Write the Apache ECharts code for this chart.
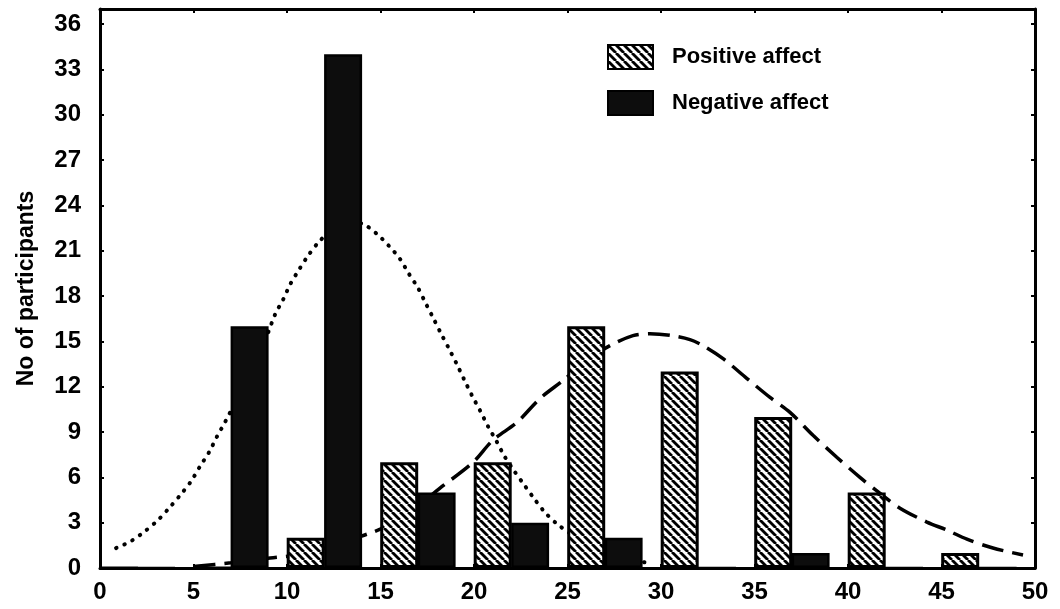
<!DOCTYPE html>
<html>
<head>
<meta charset="utf-8">
<script src="https://cdn.jsdelivr.net/npm/echarts@6/dist/echarts.min.js"></script>
<style>
  html, body { margin: 0; padding: 0; background: #fff; }
  #main { width: 1060px; height: 609px; }
</style>
</head>
<body>
<div id="main"></div>
<script>
// bins start at 0,5,10,...; positive bar sits in the left half, negative right after it
var binStarts = [0, 5, 10, 15, 20, 25, 30, 35, 40, 45];
var positiveCounts = [0, 0, 2, 7, 7, 16, 13, 10, 5, 1];
var negativeCounts = [0, 16, 34, 5, 3, 2, 0, 1, 0, 0];

// fitted curves [score, count]
var negativeCurve = [
  [0.86, 1.32], [1.66, 1.78], [2.41, 2.44], [3.10, 3.17], [3.74, 4.03], [4.33, 4.88],
  [4.87, 5.74], [5.35, 6.73], [5.83, 7.66], [6.26, 8.71], [6.68, 9.64], [7.5, 11.6],
  [8.5, 14.0], [9.36, 16.77], [9.79, 17.76], [10.16, 18.75], [10.64, 19.74], [11.12, 20.66],
  [11.66, 21.52], [12.4, 22.4], [13.2, 22.95], [14.06, 22.77], [14.81, 22.11], [15.45, 21.32],
  [16.04, 20.46], [16.52, 19.47], [17.0, 18.55], [17.43, 17.49], [17.81, 16.57], [18.24, 15.51],
  [18.66, 14.52], [19.09, 13.47], [19.47, 12.48], [19.89, 11.42], [20.32, 10.43], [20.75, 9.37],
  [21.2, 8.4], [21.6, 7.46], [22.09, 6.53], [22.62, 5.61], [23.16, 4.69], [23.74, 3.76],
  [24.39, 2.97], [25.5, 2.0], [26.5, 1.4], [28.0, 0.7], [29.3, 0.33]
];
var positiveCurve = [
  [5.0, 0.1], [7.0, 0.35], [9.1, 0.66], [11.0, 0.95], [12.8, 1.65], [14.6, 2.38],
  [15.78, 3.04], [17.0, 4.1], [18.18, 5.28], [19.95, 7.0], [21.0, 8.45], [22.3, 9.64],
  [23.53, 11.22], [24.76, 12.41], [26.04, 13.73], [27.27, 14.72], [28.5, 15.38], [29.41, 15.51],
  [30.5, 15.4], [31.55, 15.12], [32.25, 14.72], [33.32, 13.86], [34.6, 12.54], [35.83, 11.29],
  [36.9, 10.3], [38.13, 8.78], [39.4, 7.33], [40.64, 6.0], [41.7, 4.95], [42.78, 3.96],
  [44.22, 3.04], [45.29, 2.51], [46.36, 1.91], [47.75, 1.32], [49.36, 0.86]
];

// hatch pattern for positive affect
var hatch = document.createElement('canvas');
hatch.width = 8;
hatch.height = 8;
var hctx = hatch.getContext('2d');
hctx.fillStyle = '#fff';
hctx.fillRect(0, 0, 8, 8);
hctx.strokeStyle = '#000';
hctx.lineWidth = 2.8;
[-1, 0, 1].forEach(function (k) {
  hctx.beginPath();
  hctx.moveTo(k * 8, 0);
  hctx.lineTo(k * 8 + 8, 8);
  hctx.stroke();
});

var font = 'Liberation Sans, Arial, sans-serif';
var chart = echarts.init(document.getElementById('main'));

var posData = binStarts.map(function (b, i) { return [b + 1, positiveCounts[i]]; });
var negData = binStarts.map(function (b, i) { return [b + 3, negativeCounts[i]]; });

var frameAxis = {
  axisLine: { show: true, onZero: false, lineStyle: { color: '#000', width: 3 } },
  axisTick: { show: true, inside: true, length: 4, lineStyle: { color: '#000', width: 2 } },
  splitLine: { show: false }
};

chart.setOption({
  backgroundColor: '#fff',
  animation: false,
  textStyle: { fontFamily: font, color: '#000' },
  grid: { left: 100, right: 25, top: 9, bottom: 41 },
  legend: {
    data: ['Positive affect', 'Negative affect'],
    orient: 'vertical',
    left: 602,
    top: 39,
    itemWidth: 45,
    itemHeight: 24,
    itemGap: 20,
    icon: 'rect',
    textStyle: { fontSize: 22, fontWeight: 'bold', fontFamily: font, color: '#000', padding: [0, 0, 0, 14] }
  },
  xAxis: [
    Object.assign({
      type: 'value', min: 0, max: 50, interval: 5, position: 'bottom',
      axisLabel: { fontSize: 24, fontWeight: 'bold', color: '#000', fontFamily: font, margin: 12 }
    }, frameAxis),
    Object.assign({
      type: 'value', min: 0, max: 50, interval: 5, position: 'top',
      axisLabel: { show: false }
    }, frameAxis)
  ],
  yAxis: [
    Object.assign({
      type: 'value', min: 0, max: 37, interval: 3, position: 'left',
      name: 'No of participants',
      nameLocation: 'middle',
      nameGap: 62,
      nameTextStyle: { fontSize: 23, fontWeight: 'bold', color: '#000', fontFamily: font },
      axisLabel: { fontSize: 24, fontWeight: 'bold', color: '#000', fontFamily: font, margin: 19, showMaxLabel: false }
    }, frameAxis),
    Object.assign({
      type: 'value', min: 0, max: 37, interval: 3, position: 'right',
      axisLabel: { show: false }
    }, frameAxis)
  ],
  series: [
    {
      name: 'Negative curve',
      type: 'line',
      data: negativeCurve,
      smooth: 0.3,
      symbol: 'none',
      z: 1,
      lineStyle: { color: '#000', width: 4, type: [0.5, 8.5], cap: 'round' }
    },
    {
      name: 'Positive curve',
      type: 'line',
      data: positiveCurve,
      smooth: 0.3,
      symbol: 'none',
      z: 1,
      lineStyle: { color: '#000', width: 3.5, type: [22, 9] }
    },
    {
      name: 'Positive affect',
      type: 'bar',
      data: posData,
      barWidth: 38,
      barGap: '-100%',
      z: 3,
      itemStyle: { color: { image: hatch, repeat: 'repeat' }, borderColor: '#000', borderWidth: 3 }
    },
    {
      name: 'Negative affect',
      type: 'bar',
      data: negData,
      barWidth: 38,
      barGap: '-100%',
      z: 3,
      itemStyle: { color: '#0d0d0d', borderColor: '#000', borderWidth: 2.5 }
    }
  ]
});
</script>
</body>
</html>
